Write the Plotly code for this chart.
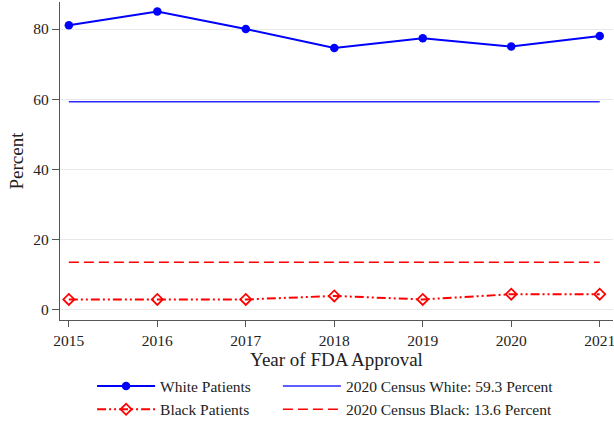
import plotly.graph_objects as go

years = [2015, 2016, 2017, 2018, 2019, 2020, 2021]
white_patients = [81.1, 85.0, 80.0, 74.6, 77.4, 75.0, 78.0]
black_patients = [3.0, 3.0, 3.0, 4.0, 3.0, 4.5, 4.5]
census_white = 59.3
census_black = 13.6
y_ticks = [0, 20, 40, 60, 80]

font = "Liberation Serif, Times New Roman, serif"
fsize = 15.5

fig = go.Figure()
fig.add_trace(go.Scatter(
    x=years, y=white_patients, name="White Patients",
    mode="lines+markers", legend="legend",
    line={"color": "#0000ff", "width": 2},
    marker={"color": "#0000ff", "size": 8.5, "symbol": "circle"},
))
fig.add_trace(go.Scatter(
    x=years, y=black_patients, name="Black Patients",
    mode="lines+markers", legend="legend",
    line={"color": "#ff0000", "width": 2, "dash": "9px,3px,2px,3px,2px,3px"},
    marker={"color": "#ff0000", "size": 8.5, "symbol": "diamond-open",
            "line": {"width": 1.8, "color": "#ff0000"}},
))
fig.add_trace(go.Scatter(
    x=[years[0], years[-1]], y=[census_white, census_white],
    name="2020 Census White: 59.3 Percent",
    mode="lines", legend="legend2",
    line={"color": "#2a2aff", "width": 1.5},
))
fig.add_trace(go.Scatter(
    x=[years[0], years[-1]], y=[census_black, census_black],
    name="2020 Census Black: 13.6 Percent",
    mode="lines", legend="legend2",
    line={"color": "#ff0000", "width": 1.5, "dash": "10px,5px"},
))

legend_common = {
    "orientation": "v",
    "xanchor": "left", "yanchor": "bottom", "y": -0.335,
    "itemwidth": 58, "tracegroupgap": 0,
    "font": {"family": font, "size": fsize, "color": "#222"},
    "bgcolor": "rgba(0,0,0,0)",
}

# figure is a little taller than the window; the extra strip below is blank
fig.update_layout(
    width=614, height=428,
    margin={"l": 60, "r": 1, "t": 2, "b": 108},
    plot_bgcolor="white", paper_bgcolor="white",
    font={"family": font, "size": fsize, "color": "#222"},
    legend={**legend_common, "x": 0.058},
    legend2={**legend_common, "x": 0.394},
    xaxis={
        "title": {"text": "Year of FDA Approval", "standoff": 0},
        "range": [2014.9, 2021.15], "tickvals": years,
        "showgrid": False, "zeroline": False, "automargin": False,
        "ticklabeloverflow": "allow",
        "showline": True, "linecolor": "#555", "linewidth": 1.2,
        "ticks": "outside", "ticklen": 6, "tickcolor": "#555",
    },
    yaxis={
        "title": {"text": "Percent", "standoff": 4},
        "range": [-2.85, 87.7], "tickvals": y_ticks,
        "showgrid": True, "gridcolor": "#e8e8e8", "gridwidth": 1,
        "zeroline": False, "automargin": False,
        "showline": True, "linecolor": "#555", "linewidth": 1.2,
        "ticks": "outside", "ticklen": 7, "tickcolor": "#555",
    },
)

fig.write_html(
    "out.html", config={"displayModeBar": False},
    post_script="document.body.style.margin = '0';"
                "document.body.style.overflow = 'hidden';"
                "document.documentElement.style.overflow = 'hidden';",
)
